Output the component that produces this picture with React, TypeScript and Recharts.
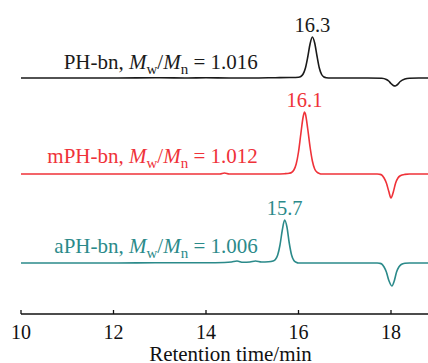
import React from "react";
import { LineChart, Line, XAxis, YAxis, ReferenceDot } from "recharts";

// retention time (min) and detector signal above each trace's own baseline
const phTimes = [10, 11, 12, 13, 13.6, 14, 14.5, 15, 15.5, 15.8, 16.0, 16.05, 16.1, 16.15, 16.2, 16.25, 16.3, 16.35, 16.4, 16.45, 16.5, 16.55, 16.6, 16.7, 17.0, 17.5, 17.8, 17.9, 17.95, 18.0, 18.05, 18.09, 18.13, 18.2, 18.3, 18.4, 18.6, 18.8];
const phSignal = [0, 0, 0, 0.3, 0, 0.2, 0, 0, 0.3, 0.5, 0.8, 1.5, 4, 10, 21, 34, 41, 35, 22, 10, 3.5, 1, 0.3, 0, 0, 0, -0.3, -1.5, -3, -5.5, -7.5, -8, -7, -3.5, -1, -0.2, 0, 0];

const mphTimes = [10, 11, 12, 13, 14, 14.3, 14.4, 14.5, 15, 15.5, 15.7, 15.8, 15.85, 15.9, 15.95, 16.0, 16.05, 16.1, 16.13, 16.15, 16.2, 16.25, 16.3, 16.35, 16.4, 16.45, 16.5, 16.7, 17.0, 17.5, 17.7, 17.75, 17.8, 17.85, 17.9, 17.95, 18.0, 18.05, 18.1, 18.15, 18.2, 18.3, 18.4, 18.6, 18.8];
const mphSignal = [0, 0, 0, 0, 0, 0, 1, 0, 0, 0, 0.3, 0.8, 1.5, 4, 10, 22, 40, 57, 62, 60, 45, 27, 13, 5, 1.8, 0.6, 0, 0, 0, 0, 0, -0.3, -1, -4, -9, -17, -24, -18, -9, -4, -1.8, -0.4, 0, 0, 0];

const aphTimes = [10, 11, 12, 13, 14, 14.4, 14.55, 14.67, 14.8, 14.95, 15.07, 15.2, 15.35, 15.45, 15.5, 15.55, 15.6, 15.65, 15.7, 15.75, 15.8, 15.85, 15.9, 15.95, 16.0, 16.2, 16.5, 17.0, 17.5, 17.7, 17.75, 17.8, 17.85, 17.9, 17.95, 18.02, 18.07, 18.12, 18.17, 18.22, 18.3, 18.4, 18.6, 18.8];
const aphSignal = [0, 0, 0, 0.3, 0.3, 0.5, 1, 2, 0.7, 1, 2, 1, 1.2, 2, 3.5, 8, 18, 33, 43, 36, 20, 8, 2.5, 0.8, 0, 0, 0, 0, 0, 0, -0.3, -1, -4, -9, -17, -23, -18, -9, -4, -1.5, -0.3, 0, 0, 0];

const sampleNames = ["PH-bn", "mPH-bn", "aPH-bn"];
const dispersity = ["1.016", "1.012", "1.006"];
const peakTimes = [16.3, 16.13, 15.7];
const peakLabels = ["16.3", "16.1", "15.7"];
const xTicks = [10, 12, 14, 16, 18];

// vertical stacking of the traces and where their names sit
const offsets = [236, 140, 51];
const nameY = [245, 151, 61];
const nameX = 15.12;
const colors = ["#1a1a1a", "#ef3239", "#2b8a8a"];

const traces = [
  { times: phTimes, signal: phSignal },
  { times: mphTimes, signal: mphSignal },
  { times: aphTimes, signal: aphSignal },
].map((tr, i) => tr.times.map((t, j) => ({ t, y: tr.signal[j] + offsets[i] })));

const peakHeights = [phSignal, mphSignal, aphSignal].map((s) => Math.max(...s));

const serif = "'Liberation Serif', 'Times New Roman', serif";

function SampleName({ cx, cy, i }: { cx: number; cy: number; i: number }) {
  return (
    <text x={cx} y={cy} textAnchor="end" fill={colors[i]} fontSize={21} fontFamily={serif}>
      <tspan>{`${sampleNames[i]}, `}</tspan>
      <tspan fontStyle="italic">M</tspan>
      <tspan fontSize={15} dy={5}>w</tspan>
      <tspan dy={-5}>/</tspan>
      <tspan fontStyle="italic">M</tspan>
      <tspan fontSize={15} dy={5}>n</tspan>
      <tspan dy={-5}>{` = ${dispersity[i]}`}</tspan>
    </text>
  );
}

export default function App() {
  return (
    <div style={{ position: "absolute", left: 0, top: 0, background: "#fff" }}>
      <LineChart width={428} height={363} margin={{ top: 10, right: 0, bottom: 0, left: 21 }}>
        <XAxis
          type="number"
          dataKey="t"
          domain={[10, 18.8]}
          ticks={xTicks}
          allowDataOverflow
          height={49}
          tickSize={-4}
          tickMargin={15}
          stroke="#111"
          strokeWidth={1.3}
          tick={{ fontSize: 20, fill: "#111", fontFamily: serif }}
          label={{
            value: "Retention time/min",
            position: "insideBottom",
            offset: 2,
            dx: 6,
            fontSize: 21,
            fill: "#111",
            fontFamily: serif,
          }}
        />
        <YAxis type="number" hide domain={[0, 304]} allowDataOverflow />
        {traces.map((data, i) => (
          <Line
            key={sampleNames[i]}
            data={data}
            dataKey="y"
            type="monotone"
            stroke={colors[i]}
            strokeWidth={1.6}
            dot={false}
            isAnimationActive={false}
          />
        ))}
        {sampleNames.map((n, i) => (
          <ReferenceDot
            key={`name-${n}`}
            x={nameX}
            y={nameY[i]}
            r={0}
            shape={(p: any) => <SampleName cx={p.cx} cy={p.cy} i={i} />}
          />
        ))}
        {peakLabels.map((lab, i) => (
          <ReferenceDot
            key={`peak-${lab}`}
            x={peakTimes[i]}
            y={offsets[i] + peakHeights[i]}
            r={0}
            shape={(p: any) => (
              <text x={p.cx} y={p.cy - 5} textAnchor="middle" fill={colors[i]} fontSize={20.5} fontFamily={serif}>
                {lab}
              </text>
            )}
          />
        ))}
      </LineChart>
    </div>
  );
}
